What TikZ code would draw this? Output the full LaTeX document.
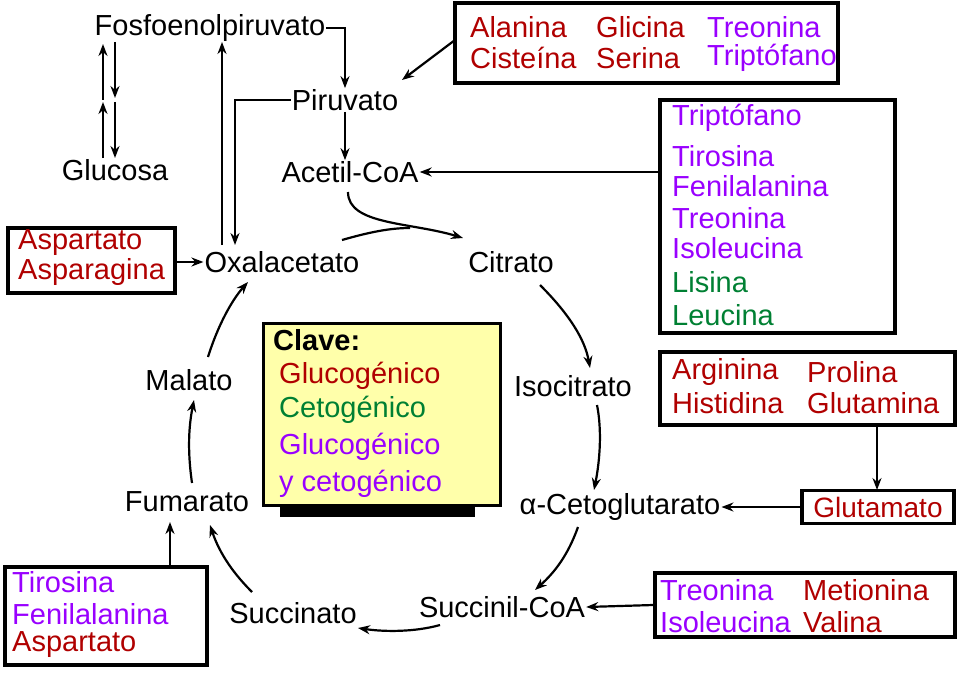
\documentclass[tikz,border=0pt]{standalone}
\usepackage{fontspec}
\setmainfont{Liberation Sans}
\usetikzlibrary{arrows.meta}
\definecolor{gr}{HTML}{B00000}
\definecolor{pu}{HTML}{9900FF}
\definecolor{ke}{HTML}{008033}
\definecolor{ky}{HTML}{FFFFAA}
\begin{document}
\begin{tikzpicture}[x=1pt,y=-1pt,
  met/.style={font=\fontsize{29}{31}\selectfont,inner sep=1pt},
  aa/.style={font=\fontsize{29}{31}\selectfont,inner sep=0pt,anchor=west},
  bx/.style={draw,line width=3.5pt},
  ar/.style={-{Stealth[length=12pt,width=9pt]},line width=2.2pt},
  ln/.style={line width=2.2pt}]
\useasboundingbox (0,0) rectangle (960,674);
% metabolites
\node[met] (fos) at (210,28) {Fosfoenolpiruvato};
\node[met] (pir) at (345,100) {Piruvato};
\node[met] (ace) at (350,172) {Acetil-CoA};
\node[met] (glu) at (115,170) {Glucosa};
\node[met] (oxa) at (282,262) {Oxalacetato};
\node[met] (cit) at (511,262) {Citrato};
\node[met] (iso) at (573,386) {Isocitrato};
\node[met] (akg) at (620,507) {α-Cetoglutarato};
\node[met] (suc) at (502,607) {Succinil-CoA};
\node[met] (sct) at (293,613) {Succinato};
\node[met] (fum) at (187,502) {Fumarato};
\node[met] (mal) at (189,380) {Malato};
% key
\fill (280,505) rectangle (475,517);
\node[draw,line width=3pt,fill=ky,minimum width=237pt,minimum height=182pt] (key) at (381.5,414) {};
\node[aa,font=\fontsize{29}{31}\selectfont\bfseries] (kc) at (273,340) {Clave:};
\node[aa,text=gr] (k1) at (279,376) {Glucogénico};
\node[aa,text=ke] (k2) at (279,410) {Cetogénico};
\node[aa,text=pu] (k3) at (279,447) {Glucogénico};
\node[aa,text=pu] (k4) at (279,484) {y cetogénico};
% boxes
\node[bx,minimum width=383pt,minimum height=80pt] (b1) at (646.5,43) {};
\node[aa,text=gr] at (470,27) {Alanina};
\node[aa,text=gr] at (596,27) {Glicina};
\node[aa,text=pu] at (707,27) {Treonina};
\node[aa,text=gr] at (470,58) {Cisteína};
\node[aa,text=gr] at (596,58) {Serina};
\node[aa,text=pu] at (707,58) {Triptófano};
\node[bx,minimum width=235pt,minimum height=233pt] (b2) at (777.5,216.5) {};
\node[aa,text=pu] at (672,118) {Triptófano};
\node[aa,text=pu] at (672,156) {Tirosina};
\node[aa,text=pu] at (672,186) {Fenilalanina};
\node[aa,text=pu] at (672,218) {Treonina};
\node[aa,text=pu] at (672,248) {Isoleucina};
\node[aa,text=ke] at (672,282) {Lisina};
\node[aa,text=ke] at (672,315) {Leucina};
\node[bx,minimum width=295pt,minimum height=73pt] (b3) at (807.5,388.5) {};
\node[aa,text=gr] at (672,372) {Arginina};
\node[aa,text=gr] at (807,372) {Prolina};
\node[aa,text=gr] at (672,403) {Histidina};
\node[aa,text=gr] at (807,403) {Glutamina};
\node[bx,minimum width=152pt,minimum height=33pt,text=gr,font=\fontsize{28}{30}\selectfont,inner sep=0pt] (b4) at (878,507) {Glutamato};
\node[bx,minimum width=300pt,minimum height=64pt] (b5) at (805,605) {};
\node[aa,text=pu] at (660,590) {Treonina};
\node[aa,text=gr] at (803,590) {Metionina};
\node[aa,text=pu] at (660,622) {Isoleucina};
\node[aa,text=gr] at (803,622) {Valina};
\node[bx,minimum width=202pt,minimum height=98pt] (b6) at (106,616) {};
\node[aa,text=pu] at (12,582) {Tirosina};
\node[aa,text=pu] at (12,614) {Fenilalanina};
\node[aa,text=gr] at (12,645) {Aspartato};
\node[bx,minimum width=167pt,minimum height=65pt] (b7) at (91.5,260.5) {};
\node[aa,text=gr] at (18,243) {Aspartato};
\node[aa,text=gr] at (18,272) {Asparagina};
% connectors
\coordinate (c1) at (345,28);
\draw[ar] (fos.east) -- (c1) -- (c1 |- pir.north);
\draw[ar] (c1 |- pir.south) -- (c1 |- ace.north);
\draw[ar] (pir.west) -- (235,100) -- (235,245);
\draw[ar] (222,245) -- (222,42);
\draw[ar] (103,100) -- (103,44);
\draw[ar] (103,158) -- (103,102);
\draw[ar] (115,42) -- (115,98);
\draw[ar] (115,102) -- (115,158);
\draw[ar] (455,40) -- (402,80);
\draw[ar] (b2.west |- ace) -- (ace.east);
\draw[ar] (b7.east |- oxa) -- (oxa.west);
\draw[ar] (877,425) -- (877,490);
\draw[ar] (b4.west) -- (akg.east);
\draw[ar] (b5.west) -- (suc.east);
\draw[ar] (170,567) -- (170,522);
% cycle
\draw[ln] (342,240) .. controls (370,232) and (390,228) .. (410,228);
\draw[ar] (348,192) .. controls (348,225) and (410,222) .. (463,238);
\draw[ar] (540,285) .. controls (570,315) and (585,340) .. (590,368);
\draw[ar] (597,405) .. controls (602,430) and (600,460) .. (594,490);
\draw[ar] (578,527) .. controls (568,555) and (555,572) .. (535,590);
\draw[ar] (440,625) .. controls (415,632) and (385,632) .. (358,628);
\draw[ar] (252,592) .. controls (235,575) and (220,555) .. (210,525);
\draw[ar] (192,483) .. controls (188,455) and (188,430) .. (194,400);
\draw[ar] (208,357) .. controls (218,325) and (232,300) .. (248,282);
\end{tikzpicture}
\end{document}
